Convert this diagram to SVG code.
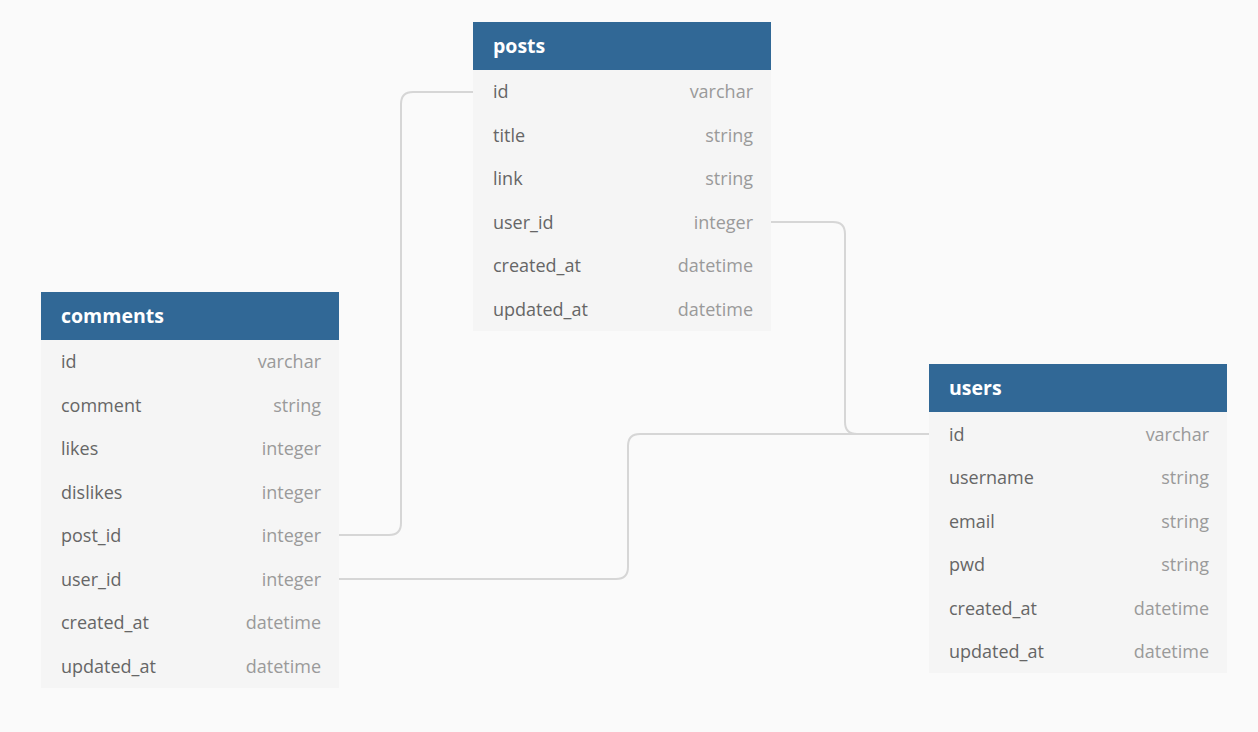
<svg xmlns="http://www.w3.org/2000/svg" width="1258" height="732" viewBox="0 0 1258 732">
<style>
.hdr{fill:#316896}
.body{fill:#f5f5f5}
.title{font-family:"Open Sans",sans-serif;font-weight:bold;font-size:19.5px;fill:#ffffff}
.fn{font-family:"Open Sans",sans-serif;font-size:18px;fill:#666666}
.ty{font-family:"Open Sans",sans-serif;font-size:18px;fill:#9a9a9a;text-anchor:end}
.conn{fill:none;stroke:#d6d6d6;stroke-width:2}
</style>
<rect width="1258" height="732" fill="#fafafa"/>
<g id="connectors">
<path class="conn" d="M473,92 H413 Q401,92 401,104 V523 Q401,535 389,535 H338"/>
<path class="conn" d="M770,222 H833 Q845,222 845,234 V422 Q845,434 857,434 H929"/>
<path class="conn" d="M338,579 H616 Q628,579 628,567 V446 Q628,434 640,434 H929"/>
</g>
<g id="posts">
<rect class="hdr" x="473" y="22" width="298" height="48"/>
<rect class="body" x="473" y="70" width="298" height="261"/>
<text class="title" x="493" y="53">posts</text>
<text class="fn" x="493" y="98">id</text><text class="ty" x="753" y="98">varchar</text>
<text class="fn" x="493" y="142">title</text><text class="ty" x="753" y="142">string</text>
<text class="fn" x="493" y="185">link</text><text class="ty" x="753" y="185">string</text>
<text class="fn" x="493" y="229">user_id</text><text class="ty" x="753" y="229">integer</text>
<text class="fn" x="493" y="272">created_at</text><text class="ty" x="753" y="272">datetime</text>
<text class="fn" x="493" y="316">updated_at</text><text class="ty" x="753" y="316">datetime</text>
</g>
<g id="comments">
<rect class="hdr" x="41" y="292" width="298" height="48"/>
<rect class="body" x="41" y="340" width="298" height="348"/>
<text class="title" x="61" y="323">comments</text>
<text class="fn" x="61" y="368">id</text><text class="ty" x="321" y="368">varchar</text>
<text class="fn" x="61" y="412">comment</text><text class="ty" x="321" y="412">string</text>
<text class="fn" x="61" y="455">likes</text><text class="ty" x="321" y="455">integer</text>
<text class="fn" x="61" y="499">dislikes</text><text class="ty" x="321" y="499">integer</text>
<text class="fn" x="61" y="542">post_id</text><text class="ty" x="321" y="542">integer</text>
<text class="fn" x="61" y="586">user_id</text><text class="ty" x="321" y="586">integer</text>
<text class="fn" x="61" y="629">created_at</text><text class="ty" x="321" y="629">datetime</text>
<text class="fn" x="61" y="673">updated_at</text><text class="ty" x="321" y="673">datetime</text>
</g>
<g id="users">
<rect class="hdr" x="929" y="364" width="298" height="48"/>
<rect class="body" x="929" y="412" width="298" height="261"/>
<text class="title" x="949" y="395">users</text>
<text class="fn" x="949" y="441">id</text><text class="ty" x="1209" y="441">varchar</text>
<text class="fn" x="949" y="484">username</text><text class="ty" x="1209" y="484">string</text>
<text class="fn" x="949" y="528">email</text><text class="ty" x="1209" y="528">string</text>
<text class="fn" x="949" y="571">pwd</text><text class="ty" x="1209" y="571">string</text>
<text class="fn" x="949" y="615">created_at</text><text class="ty" x="1209" y="615">datetime</text>
<text class="fn" x="949" y="658">updated_at</text><text class="ty" x="1209" y="658">datetime</text>
</g>
</svg>
